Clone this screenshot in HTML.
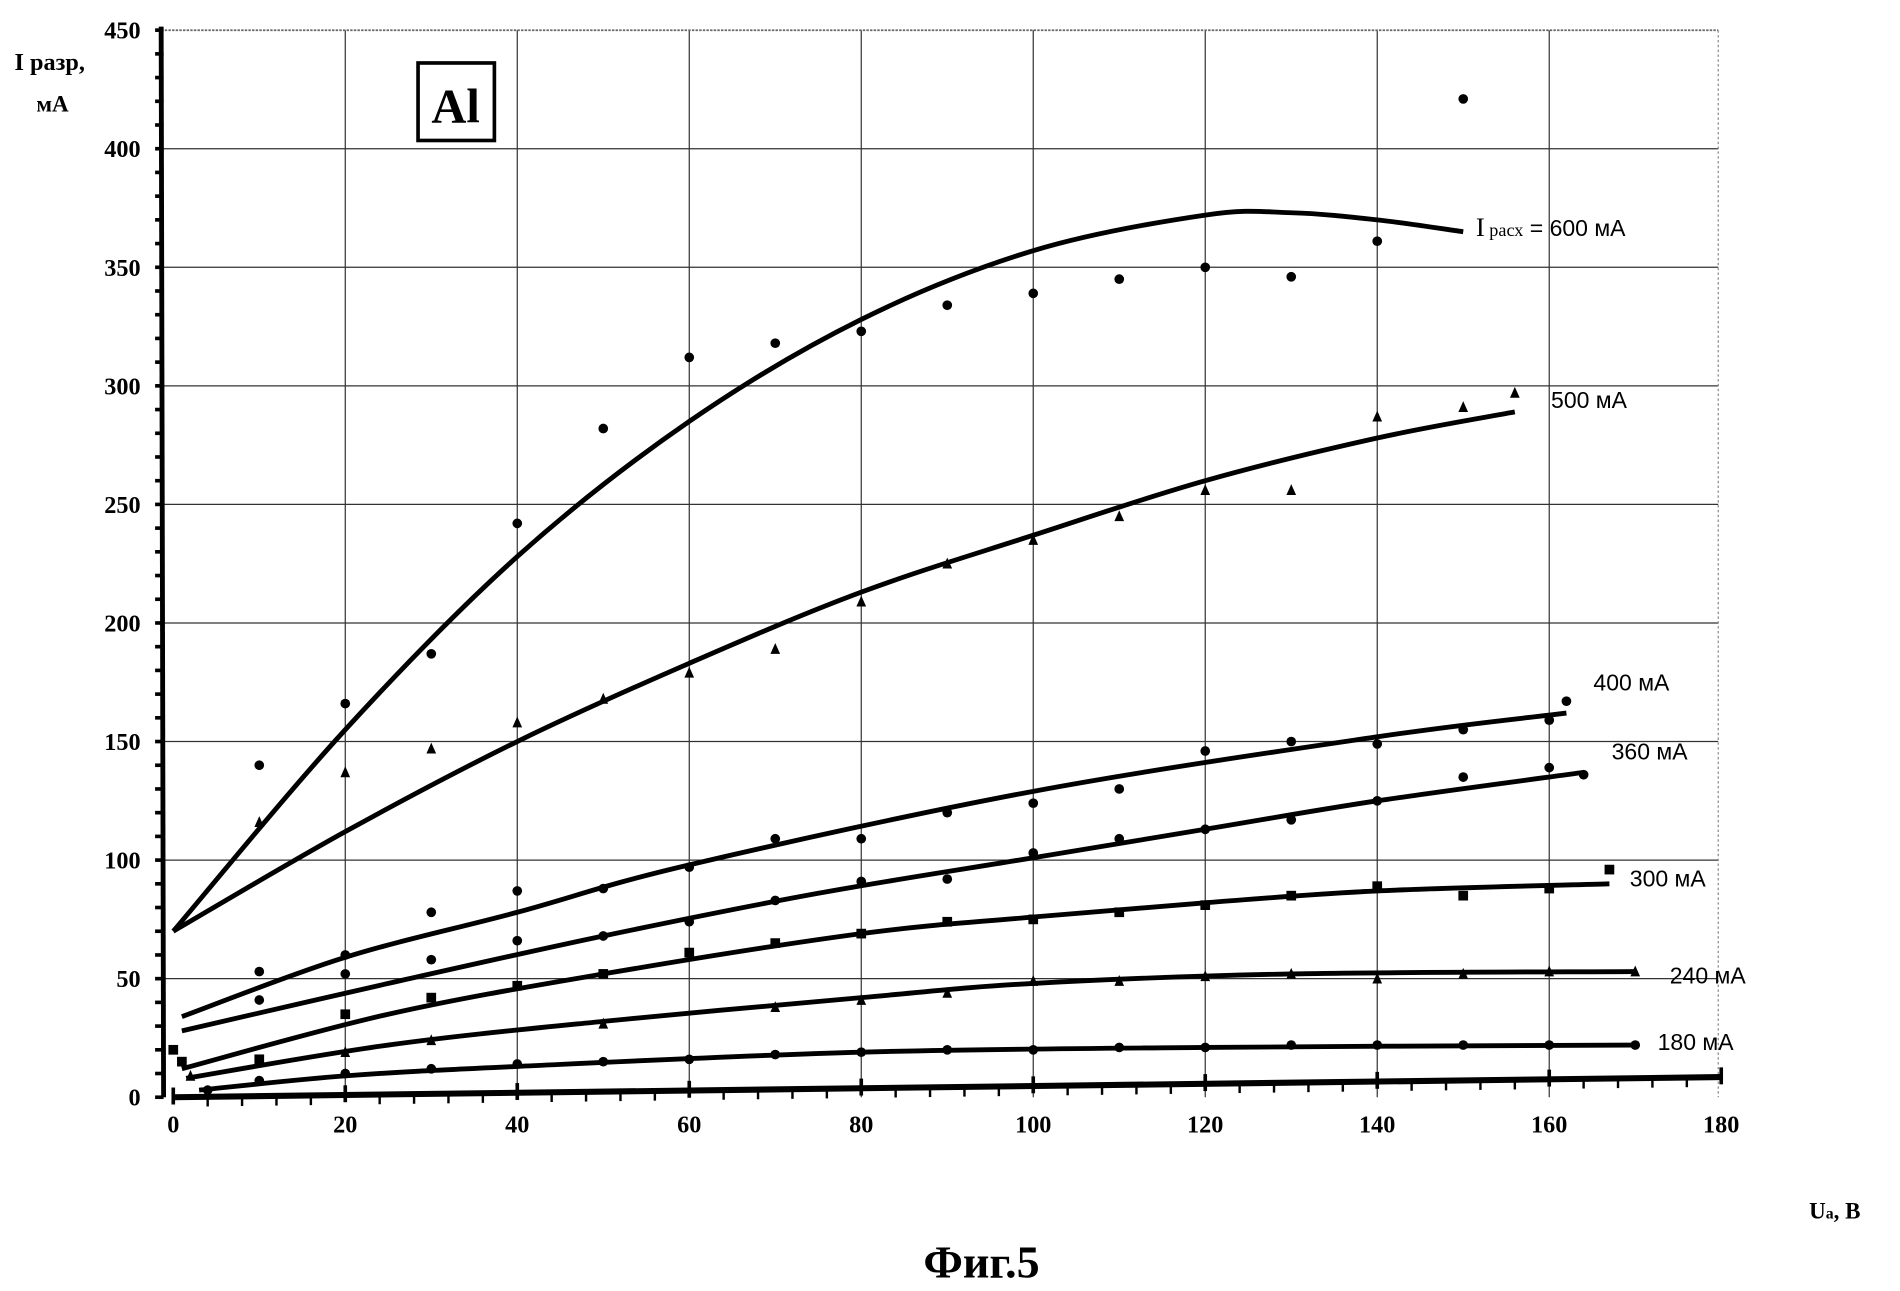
<!DOCTYPE html>
<html><head><meta charset="utf-8"><style>
html,body{margin:0;padding:0;background:#fff;}
svg{display:block}
</style></head><body>
<svg id="s" width="1900" height="1291" viewBox="0 0 1568 1066" preserveAspectRatio="none" xmlns="http://www.w3.org/2000/svg"></svg>
<script>
const s=document.getElementById('s');
const X=u=>143+u*7.097, Y=v=>906-v*1.958;
let h='';
for(let v=50;v<=400;v+=50)h+=`<line x1="133" y1="${Y(v)}" x2="1418" y2="${Y(v)}" stroke="#333" stroke-width="1"/>`;
for(let u=20;u<=160;u+=20)h+=`<line x1="${X(u)}" y1="25" x2="${X(u)}" y2="906" stroke="#333" stroke-width="1"/>`;
h+=`<line x1="133" y1="25" x2="1418" y2="25" stroke="#666" stroke-width="1.5" stroke-dasharray="2,1"/>`;
h+=`<line x1="1418" y1="25" x2="1418" y2="906" stroke="#888" stroke-width="1" stroke-dasharray="2,2"/>`;
h+=`<line x1="133" y1="22" x2="135" y2="906" stroke="#000" stroke-width="4"/>`;
for(let v=0;v<=450;v+=10)h+=`<line x1="128" y1="${Y(v)}" x2="135" y2="${Y(v)}" stroke="#000" stroke-width="3"/>`;
for(let v=0;v<=450;v+=50)h+=`<text x="116" y="${Y(v)+7}" text-anchor="end" font-family="Liberation Serif" font-weight="bold" font-size="20">${v}</text>`;
h+=`<line x1="${X(0)}" y1="906" x2="${X(180)}" y2="${Y(8.5)}" stroke="#000" stroke-width="5"/>`;
for(let u=0;u<=180;u+=4){const yy=906-(u/180)*8.5*1.958;const big=u%20==0;h+=`<line x1="${X(u)}" y1="${yy-(big?8:0)}" x2="${X(u)}" y2="${yy+(big?6:8)}" stroke="#000" stroke-width="${big?3:2}"/>`;}
for(let u=0;u<=180;u+=20)h+=`<text x="${X(u)}" y="935" text-anchor="middle" font-family="Liberation Serif" font-weight="bold" font-size="20">${u}</text>`;
function cr(pts){let d=`M${X(pts[0][0])},${Y(pts[0][1])}`;const P=pts.map(p=>[X(p[0]),Y(p[1])]);
for(let i=0;i<P.length-1;i++){const p0=P[i-1]||P[i],p1=P[i],p2=P[i+1],p3=P[i+2]||P[i+1];
d+=` C${p1[0]+(p2[0]-p0[0])/6},${p1[1]+(p2[1]-p0[1])/6} ${p2[0]-(p3[0]-p1[0])/6},${p2[1]-(p3[1]-p1[1])/6} ${p2[0]},${p2[1]}`;}
return `<path d="${d}" fill="none" stroke="#000" stroke-width="4"/>`;}
const curves=[
[[0,70],[20,155],[40,228],[60,285],[80,328],[100,357],[120,372],[130,373],[140,370],[150,365]],
[[0,70],[20,112],[40,150],[60,183],[80,213],[100,237],[120,260],[140,278],[156,289]],
[[1,34],[20,59],[40,78],[60,98],[100,129],[140,152],[162,162]],
[[1,28],[25,48],[50,68],[75,86],[100,101],[120,113],[140,125],[164,137]],
[[1,12],[25,35],[50,52],[80,69],[100,76],[120,82],[140,87],[167,90]],
[[1.5,8],[25,22],[50,32],[80,42],[100,48],[130,52],[170,53]],
[[3,3],[20,9],[40,13],[80,19],[120,21],[170,22]]];
curves.forEach(c=>h+=cr(c));
function dot(u,v){return `<circle cx="${X(u)}" cy="${Y(v)}" r="4" fill="#000"/>`}
function tri(u,v){const x=X(u),y=Y(v);return `<polygon points="${x-4},${y+4} ${x+4},${y+4} ${x},${y-5}" fill="#000"/>`}
function sq(u,v){const x=X(u),y=Y(v);return `<rect x="${x-4}" y="${y-4}" width="8" height="8" fill="#000"/>`}
[[10,140],[20,166],[30,187],[40,242],[50,282],[60,312],[70,318],[80,323],[90,334],[100,339],[110,345],[120,350],[130,346],[140,361],[150,421]].forEach(p=>h+=dot(...p));
[[10,116],[20,137],[30,147],[40,158],[50,168],[60,179],[70,189],[80,209],[90,225],[100,235],[110,245],[120,256],[130,256],[140,287],[150,291],[156,297]].forEach(p=>h+=tri(...p));
[[10,53],[20,60],[30,78],[40,87],[50,88],[60,97],[70,109],[80,109],[90,120],[100,124],[110,130],[120,146],[130,150],[140,149],[150,155],[160,159],[162,167]].forEach(p=>h+=dot(...p));
[[10,41],[20,52],[30,58],[40,66],[50,68],[60,74],[70,83],[80,91],[90,92],[100,103],[110,109],[120,113],[130,117],[140,125],[150,135],[160,139],[164,136]].forEach(p=>h+=dot(...p));
[[0,20],[1,15],[10,16],[20,35],[30,42],[40,47],[50,52],[60,61],[70,65],[80,69],[90,74],[100,75],[110,78],[120,81],[130,85],[140,89],[150,85],[160,88],[167,96]].forEach(p=>h+=sq(...p));
[[2,9],[20,19],[30,24],[50,31],[70,38],[80,41],[90,44],[100,49],[110,49],[120,51],[130,52],[140,50],[150,52],[160,53],[170,53]].forEach(p=>h+=tri(...p));
[[4,3],[10,7],[20,10],[30,12],[40,14],[50,15],[60,16],[70,18],[80,19],[90,20],[100,20],[110,21],[120,21],[130,22],[140,22],[150,22],[160,22],[170,22]].forEach(p=>h+=dot(...p));
const F='font-family="Liberation Sans" font-size="19"';
h+=`<text x="1218" y="195" ${F}><tspan font-family="Liberation Serif" font-size="22">I</tspan><tspan font-family="Liberation Serif" font-size="15"> расх</tspan> = 600 мА</text>`;
h+=`<text x="1280" y="337" ${F}>500 мА</text>`;
h+=`<text x="1315" y="570" ${F}>400 мА</text>`;
h+=`<text x="1330" y="627" ${F}>360 мА</text>`;
h+=`<text x="1345" y="732" ${F}>300 мА</text>`;
h+=`<text x="1378" y="812" ${F}>240 мА</text>`;
h+=`<text x="1368" y="867" ${F}>180 мА</text>`;
h+=`<rect x="345" y="52" width="63" height="64" fill="#fff" stroke="#000" stroke-width="3"/>`;
h+=`<text x="376" y="101" text-anchor="middle" font-family="Liberation Serif" font-weight="bold" font-size="40">Al</text>`;
h+=`<text x="12" y="58" font-family="Liberation Serif" font-weight="bold" font-size="20">I разр,</text>`;
h+=`<text x="30" y="92" font-family="Liberation Serif" font-weight="bold" font-size="19">мА</text>`;
h+=`<text x="1493" y="1006" font-family="Liberation Serif" font-weight="bold" font-size="19">U<tspan font-size="13">a</tspan>, В</text>`;
h+=`<text x="810" y="1055" text-anchor="middle" font-family="Liberation Serif" font-weight="bold" font-size="38">Фиг.5</text>`;
s.innerHTML=h;
</script>
</body></html>
